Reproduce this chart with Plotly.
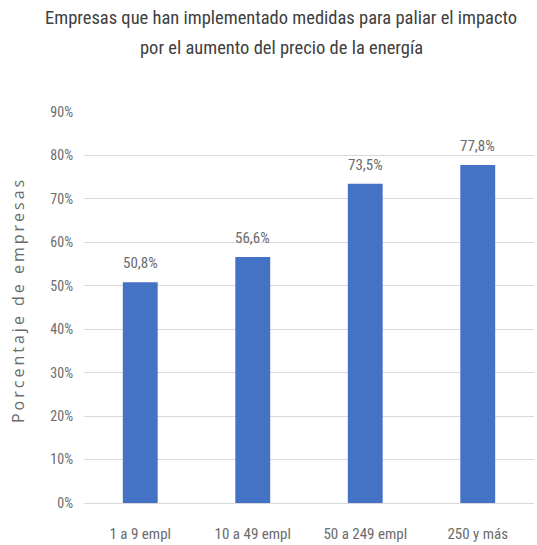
import plotly.graph_objects as go

categories = ["1 a 9 empl", "10 a 49 empl", "50 a 249 empl", "250 y más"]
values = [0.508, 0.566, 0.735, 0.778]
tick_vals = [0, 0.1, 0.2, 0.3, 0.4, 0.5, 0.6, 0.7, 0.8, 0.9]

title_lines = ["Empresas que han implementado medidas para paliar el impacto",
               "por el aumento del precio de la energía"]
y_title = "Porcentaje de empresas"

NARROW = "Liberation Sans Narrow, Arial Narrow, Roboto Condensed, sans-serif"
TXT = "#6b6b6b"

W, H = 537, 545
ML, MR, MT, MB = 84, 3, 112, 42
PW, PH = W - ML - MR, H - MT - MB


def px_x(p):
    return (p - ML) / PW


def px_y(p):
    return (H - MB - p) / PH


fig = go.Figure(go.Bar(
    x=categories, y=values,
    marker=dict(color="#4472C4", line=dict(width=0)),
    hoverinfo="skip",
))

annotations = []
for c, v in zip(categories, values):
    annotations.append(dict(
        x=c, y=v, xref="x", yref="y",
        text=f"{v*100:.1f}%".replace(".", ","),
        showarrow=False, yanchor="bottom", yshift=8,
        font=dict(family=NARROW, size=15, color=TXT),
    ))
annotations.append(dict(
    x=px_x(18), y=px_y(300), xref="paper", yref="paper",
    xanchor="center", yanchor="middle",
    text=y_title, showarrow=False, textangle=-90,
    font=dict(family="Open Sans, sans-serif", size=16, color=TXT),
))
for line, cy in zip(title_lines, [18, 48]):
    annotations.append(dict(
        x=px_x(281), y=px_y(cy), xref="paper", yref="paper",
        xanchor="center", yanchor="middle", text=line, showarrow=False,
        font=dict(family=NARROW, size=18.5, color="#404040"),
    ))

fig.update_layout(
    width=W, height=H,
    margin=dict(l=ML, r=MR, t=MT, b=MB, autoexpand=False),
    paper_bgcolor="white", plot_bgcolor="white",
    separators=",.",
    showlegend=False,
    bargap=0.69,
    xaxis=dict(showgrid=False, showline=True, linecolor="#D9D9D9", linewidth=1,
               ticks="", tickfont=dict(family=NARROW, size=15, color=TXT),
               ticklabelstandoff=17, automargin=False),
    yaxis=dict(range=[0, 0.9], tickvals=tick_vals, tickformat=".0%",
               showgrid=True, gridcolor="#D9D9D9", gridwidth=1, zeroline=False,
               showline=False, ticks="",
               tickfont=dict(family=NARROW, size=14, color=TXT),
               ticklabelstandoff=10, automargin=False),
    annotations=annotations,
)

post = (
    "document.documentElement.style.margin='0';"
    "document.body.style.margin='0';document.body.style.padding='0';"
    "document.querySelectorAll('text.annotation-text').forEach(function(t){"
    "if(t.textContent.indexOf('Porcentaje')===0){t.style.letterSpacing='3px';}});"
)

fig.write_html("out.html", config={"displayModeBar": False}, post_script=post)
